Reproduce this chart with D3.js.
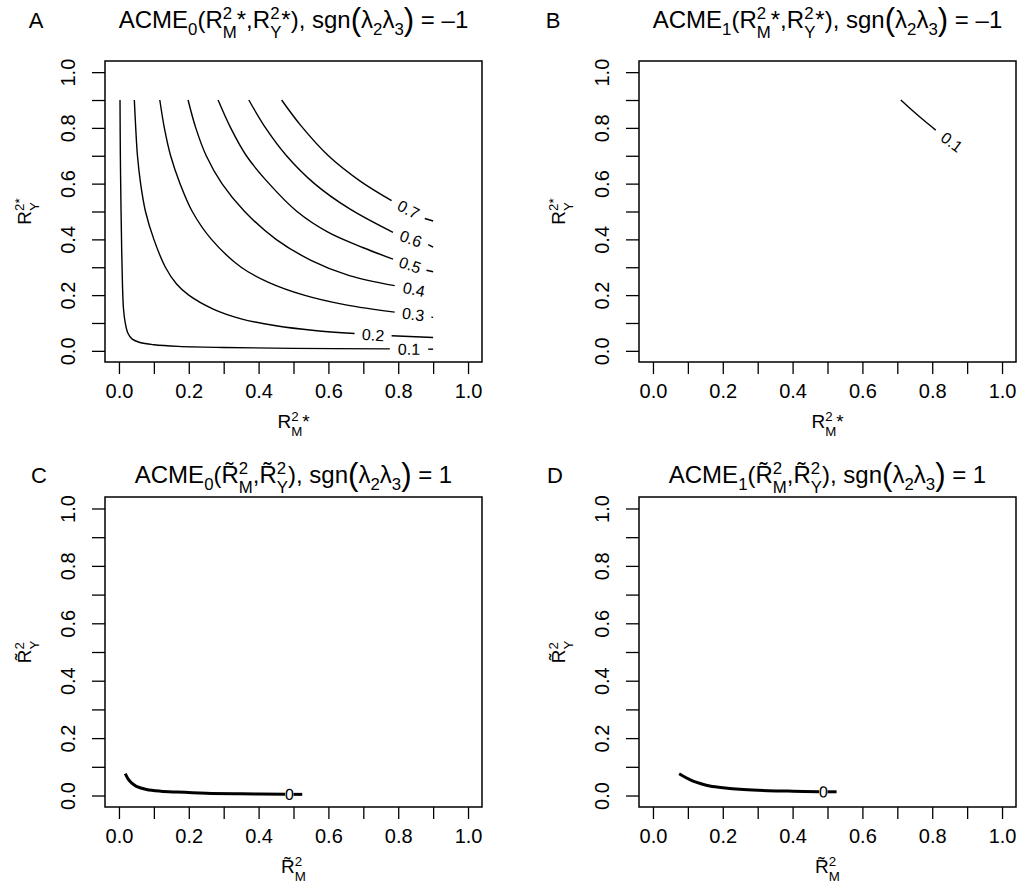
<!DOCTYPE html>
<html>
<head>
<meta charset="utf-8">
<script src="https://cdn.jsdelivr.net/npm/d3@7"></script>
<style>
  body { margin: 0; background: #fff; }
  text { font-family: "Liberation Sans", Arial, sans-serif; fill: #000; white-space: pre; }
</style>
</head>
<body>
<script>
// ---- values ----
const ticks = [0, 0.1, 0.2, 0.3, 0.4, 0.5, 0.6, 0.7, 0.8, 0.9, 1.0];
const tickLabels = ['0.0', '', '0.2', '', '0.4', '', '0.6', '', '0.8', '', '1.0'];

// panel A: ACME0 contours, one entry per level
const levelsA = ['0.1', '0.2', '0.3', '0.4', '0.5', '0.6', '0.7'];
const linesA = [
  [[0.003,0.9],[0.004,0.7],[0.006,0.5],[0.008,0.35],[0.01,0.24],[0.013,0.15],[0.018,0.1],[0.025,0.065],[0.038,0.042],[0.06,0.03],[0.1,0.022],[0.17,0.016],[0.3,0.012],[0.5,0.009],[0.776,0.007]],
  [[0.044,0.9],[0.048,0.8],[0.053,0.7],[0.062,0.6],[0.076,0.5],[0.1,0.4],[0.133,0.3],[0.165,0.24],[0.2,0.2],[0.27,0.15],[0.35,0.115],[0.45,0.09],[0.56,0.073],[0.675,0.062]],
  [[0.117,0.9],[0.13,0.8],[0.148,0.7],[0.175,0.6],[0.21,0.5],[0.265,0.4],[0.35,0.3],[0.43,0.245],[0.53,0.2],[0.65,0.165],[0.79,0.139]],
  [[0.198,0.9],[0.22,0.8],[0.25,0.7],[0.295,0.6],[0.36,0.5],[0.45,0.4],[0.55,0.325],[0.66,0.27],[0.79,0.234]],
  [[0.284,0.9],[0.32,0.8],[0.365,0.7],[0.43,0.6],[0.51,0.5],[0.6,0.425],[0.7,0.37],[0.785,0.329]],
  [[0.372,0.9],[0.42,0.8],[0.48,0.7],[0.56,0.6],[0.66,0.51],[0.785,0.425]],
  [[0.466,0.9],[0.52,0.81],[0.6,0.7],[0.69,0.61],[0.781,0.539]]
];
const tailsA = [
  [[0.886,0.006],[0.9,0.006]],
  [[0.781,0.054],[0.9,0.048]],
  [[0.895,0.121],[0.9,0.12]],
  [],
  [[0.881,0.289],[0.9,0.284]],
  [[0.886,0.381],[0.9,0.372]],
  [[0.876,0.475],[0.9,0.466]]
];
const labelPosA = [[0.831,0.006],[0.728,0.057],[0.843,0.131],[0.845,0.22],[0.834,0.308],[0.836,0.402],[0.829,0.507]];

// panel B: ACME1, single level
const levelsB = ['0.1'];
const linesB = [[[0.71,0.9],[0.74,0.866],[0.775,0.828],[0.81,0.792]]];
const tailsB = [[]];
const labelPosB = [[0.856,0.749]];

// panels C, D: level 0
const levelsC = ['0'];
const linesC = [[[0.018,0.076],[0.026,0.058],[0.036,0.044],[0.05,0.032],[0.079,0.021],[0.12,0.015],[0.165,0.012],[0.25,0.008],[0.35,0.006],[0.476,0.0045]]];
const tailsC = [[[0.5,0.004],[0.525,0.004]]];
const labelPosC = [[0.488,0.004]];

const levelsD = ['0'];
const linesD = [[[0.075,0.076],[0.095,0.062],[0.115,0.05],[0.14,0.04],[0.163,0.033],[0.2,0.027],[0.259,0.021],[0.33,0.017],[0.402,0.015],[0.476,0.0135]]];
const tailsD = [[[0.5,0.013],[0.526,0.013]]];
const labelPosD = [[0.488,0.013]];

// ---- titles as rich text tokens ----
const Rt = 'R\u0303';
const star = [['R'], [['2', 'M'], 'ss'], ['*']];
const starY = [['R'], [['2*', 'Y'], 'ss']];
const tilM = [[Rt], [['2', 'M'], 'ss']];
const tilY = [[Rt], [['2', 'Y'], 'ss']];
const sgn = [['sgn'], ['(', 'big'], ['λ'], ['2', 'sub'], ['λ'], ['3', 'sub'], [')', 'big']];
const titleA = [['ACME'], ['0', 'sub'], ['('], ['R'], [['2','M'],'ss'], ['*,'], ['R'], [['2','Y'],'ss'], ['*), '], ...sgn, [' = –1']];
const titleB = [['ACME'], ['1', 'sub'], ['('], ['R'], [['2','M'],'ss'], ['*,'], ['R'], [['2','Y'],'ss'], ['*), '], ...sgn, [' = –1']];
const titleC = [['ACME'], ['0', 'sub'], ['('], [Rt], [['2','M'],'ss'], [','], [Rt], [['2','Y'],'ss'], ['), '], ...sgn, [' = 1']];
const titleD = [['ACME'], ['1', 'sub'], ['('], [Rt], [['2','M'],'ss'], [','], [Rt], [['2','Y'],'ss'], ['), '], ...sgn, [' = 1']];

const W = 1019, H = 883;
const svg = d3.select('body').append('svg').attr('width', W).attr('height', H);

// writes tokens left to right from (0,0) baseline, returns width
function rich(g, parts, size) {
  let x = 0;
  for (const [t, k] of parts) {
    if (k === 'ss') {
      const a = g.append('text').attr('x', x).attr('y', -0.38 * size).style('font-size', 0.7 * size + 'px').text(t[0]);
      const b = g.append('text').attr('x', x).attr('y', 0.42 * size).style('font-size', 0.7 * size + 'px').text(t[1]);
      x += Math.max(a.node().getComputedTextLength(), b.node().getComputedTextLength());
    } else {
      const fs = (k === 'sub' || k === 'sup') ? 0.7 * size : k === 'big' ? 1.3 * size : size;
      const y = k === 'sub' ? 0.3 * size : k === 'sup' ? -0.38 * size : k === 'big' ? 0.07 * size : 0;
      const a = g.append('text').attr('x', x).attr('y', y).style('font-size', fs + 'px').text(t);
      x += a.node().getComputedTextLength();
    }
  }
  return x;
}

function richCentered(parent, parts, size, cx, cy, rotate) {
  const outer = parent.append('g').attr('transform', `translate(${cx},${cy})` + (rotate ? ` rotate(${rotate})` : ''));
  const inner = outer.append('g');
  const w = rich(inner, parts, size);
  inner.attr('transform', `translate(${-w / 2},0)`);
}

const line = d3.line().curve(d3.curveCatmullRom.alpha(0.5));

const panels = [
  { id: 'A', left: 105, top: 61, h: 301, letterX: 36, titleY: 28, title: titleA, xlab: star, ylab: starY,
    levels: levelsA, lines: linesA, tails: tailsA, labels: labelPosA, lw: 1.4 },
  { id: 'B', left: 639, top: 61, h: 301, letterX: 553, titleY: 28, title: titleB, xlab: star, ylab: starY,
    levels: levelsB, lines: linesB, tails: tailsB, labels: labelPosB, lw: 1.4 },
  { id: 'C', left: 105, top: 497, h: 310, letterX: 39, titleY: 483, title: titleC, xlab: tilM, ylab: tilY,
    levels: levelsC, lines: linesC, tails: tailsC, labels: labelPosC, lw: 3 },
  { id: 'D', left: 639, top: 497, h: 310, letterX: 555, titleY: 483, title: titleD, xlab: tilM, ylab: tilY,
    levels: levelsD, lines: linesD, tails: tailsD, labels: labelPosD, lw: 3 }
];
const boxW = 377;

panels.forEach(p => {
  const g = svg.append('g');
  const x = d3.scaleLinear().domain([-0.04, 1.04]).range([p.left, p.left + boxW]);
  const y = d3.scaleLinear().domain([-0.04, 1.04]).range([p.top + p.h, p.top]);
  line.x(d => x(d[0])).y(d => y(d[1]));

  // axes
  const fmt = (d, i) => tickLabels[i];
  const xa = g.append('g').attr('transform', `translate(0,${p.top + p.h})`)
    .call(d3.axisBottom(x).tickValues(ticks).tickFormat(fmt).tickSize(12).tickPadding(10));
  const ya = g.append('g').attr('transform', `translate(${p.left},0)`)
    .call(d3.axisLeft(y).tickValues(ticks).tickFormat(fmt).tickSize(13));
  [xa, ya].forEach(a => {
    a.select('.domain').remove();
    a.selectAll('line').attr('stroke', '#000').attr('stroke-width', 1.3);
    a.selectAll('text').style('font-size', '20px').attr('fill', '#000');
  });
  ya.selectAll('text')
    .attr('x', 0).attr('dy', 0).attr('text-anchor', 'middle')
    .attr('transform', 'translate(-30,0) rotate(-90)');

  // box
  g.append('rect').attr('x', p.left).attr('y', p.top).attr('width', boxW).attr('height', p.h)
    .attr('fill', 'none').attr('stroke', '#000').attr('stroke-width', 1.5);

  // contours
  p.levels.forEach((lev, i) => {
    g.append('path').attr('d', line(p.lines[i])).attr('fill', 'none')
      .attr('stroke', '#000').attr('stroke-width', p.lw);
    if (p.tails[i].length) {
      g.append('path').attr('d', line(p.tails[i])).attr('fill', 'none')
        .attr('stroke', '#000').attr('stroke-width', p.lw);
    }
    const end = p.lines[i][p.lines[i].length - 1];
    const lp = p.labels[i];
    const ang = Math.atan2(y(lp[1]) - y(end[1]), x(lp[0]) - x(end[0])) * 180 / Math.PI;
    g.append('text')
      .attr('transform', `translate(${x(lp[0])},${y(lp[1])}) rotate(${ang})`)
      .attr('text-anchor', 'middle').attr('dy', '0.35em')
      .style('font-size', '16px').text(lev);
  });

  // titles
  richCentered(g, p.title, 24, p.left + boxW / 2, p.titleY);
  g.append('text').attr('x', p.letterX).attr('y', p.titleY).attr('text-anchor', 'middle')
    .style('font-size', '22px').text(p.id);
  richCentered(g, p.xlab, 19, p.left + boxW / 2, p.top + p.h + 66);
  richCentered(g, p.ylab, 19, p.left - 74, p.top + p.h / 2, -90);
});
</script>
</body>
</html>
